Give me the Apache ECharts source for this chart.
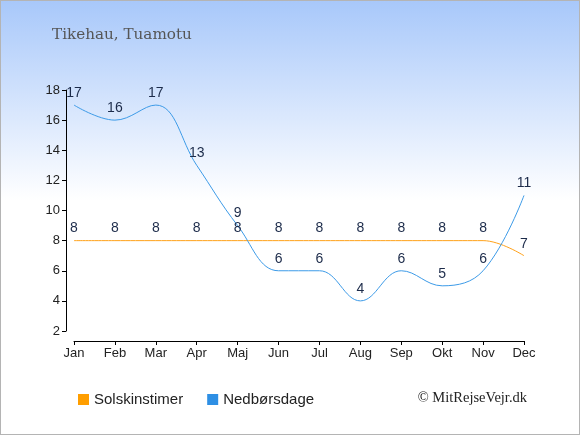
<!DOCTYPE html>
<html>
<head>
<meta charset="utf-8">
<script src="https://cdn.jsdelivr.net/npm/echarts@6/dist/echarts.min.js"></script>
<style>
html, body { margin: 0; padding: 0; }
#chart { width: 578px; height: 433px; border: 1px solid #b4b4b4; }
</style>
</head>
<body>
<div id="chart"></div>
<script>
var months = ["Jan", "Feb", "Mar", "Apr", "Maj", "Jun", "Jul", "Aug", "Sep", "Okt", "Nov", "Dec"];
var solskin = [8, 8, 8, 8, 8, 8, 8, 8, 8, 8, 8, 7];
var nedbor = [17, 16, 17, 13, 9, 6, 6, 4, 6, 5, 6, 11];

var myChart = echarts.init(document.getElementById("chart"));
var labelStyle = {
    show: true,
    position: "top",
    distance: 5,
    color: "#1c2b4a",
    fontSize: 14,
    fontFamily: "Liberation Sans, Arial"
};
var option = {
    backgroundColor: {
        type: "linear", x: 0, y: 0, x2: 0, y2: 1,
        colorStops: [
            { offset: 0, color: "#a8c8fa" },
            { offset: 0.46, color: "#ffffff" },
            { offset: 1, color: "#ffffff" }
        ]
    },
    animation: false,
    title: {
        text: "Tikehau, Tuamotu",
        left: 46,
        top: 22,
        textStyle: {
            fontFamily: "DejaVu Serif, serif",
            fontWeight: "normal",
            fontSize: 15.2,
            color: "#555555"
        }
    },
    legend: {
        left: 72,
        top: 386,
        icon: "rect",
        itemWidth: 11,
        itemHeight: 11,
        itemGap: 24,
        textStyle: { fontSize: 15, color: "#222", fontFamily: "Liberation Sans, Arial" },
        data: ["Solskinstimer", "Nedbørsdage"]
    },
    graphic: [{
        type: "text",
        right: 52,
        top: 390,
        style: {
            text: "© MitRejseVejr.dk",
            font: "14.5px Liberation Serif, DejaVu Serif, serif",
            fill: "#222"
        }
    }],
    grid: { left: 73, right: 55, top: 89, bottom: 103 },
    xAxis: {
        type: "category",
        boundaryGap: false,
        data: months,
        offset: 10,
        axisLine: { lineStyle: { color: "#000", width: 1 } },
        axisTick: { alignWithLabel: true, length: 4, lineStyle: { color: "#000" } },
        axisLabel: { color: "#222", fontSize: 13, fontFamily: "Liberation Sans, Arial", margin: 6 },
        splitLine: { show: false }
    },
    yAxis: {
        type: "value",
        min: 2,
        max: 18,
        interval: 2,
        offset: 8,
        axisLine: { show: true, lineStyle: { color: "#000", width: 1 } },
        axisTick: { show: true, length: 4, lineStyle: { color: "#000" } },
        axisLabel: { color: "#222", fontSize: 13, fontFamily: "Liberation Sans, Arial", margin: 6 },
        splitLine: { show: false }
    },
    series: [{
        name: "Solskinstimer",
        type: "line",
        smooth: 0.4,
        symbol: "circle",
        symbolSize: 0,
        showSymbol: true,
        itemStyle: { color: "#ff9e00" },
        lineStyle: { width: 1, color: "#ffa21a" },
        label: labelStyle,
        data: solskin
    }, {
        name: "Nedbørsdage",
        type: "line",
        smooth: 0.4,
        symbol: "circle",
        symbolSize: 0,
        showSymbol: true,
        itemStyle: { color: "#2e8fe4" },
        lineStyle: { width: 1, color: "#3d9be8" },
        label: labelStyle,
        data: nedbor
    }]
};
myChart.setOption(option);
</script>
</body>
</html>
